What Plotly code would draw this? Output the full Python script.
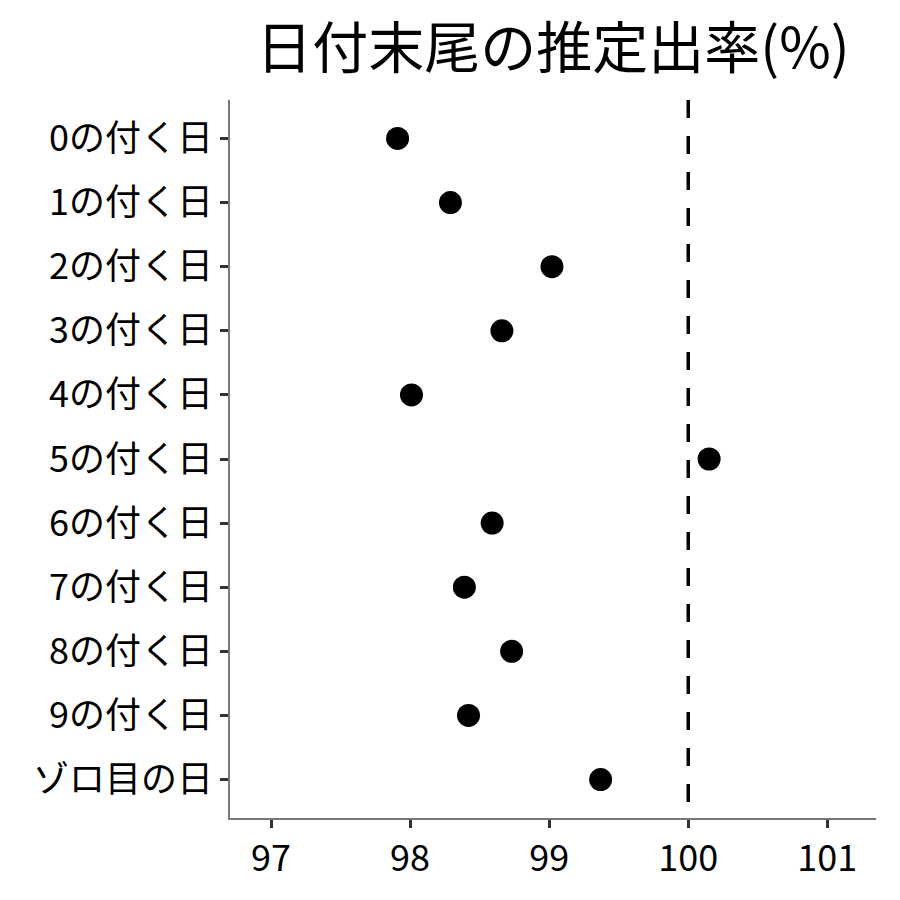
import plotly.graph_objects as go

categories = ["0の付く日", "1の付く日", "2の付く日", "3の付く日", "4の付く日",
              "5の付く日", "6の付く日", "7の付く日", "8の付く日", "9の付く日", "ゾロ目の日"]
values = [97.91, 98.29, 99.02, 98.66, 98.01, 100.15, 98.59, 98.39, 98.73, 98.42, 99.37]
x_ticks = [97, 98, 99, 100, 101]
ref_value = 100

FONT = "Noto Sans CJK JP"

fig = go.Figure()
fig.add_trace(go.Scatter(
    x=values, y=categories, mode="markers",
    marker=dict(color="black", size=23),
    showlegend=False,
))
fig.add_shape(type="line", xref="x", yref="paper", x0=ref_value, x1=ref_value, y0=1, y1=0,
              line=dict(color="black", width=3.5, dash="18px,18px"))

fig.update_layout(
    width=900, height=900,
    paper_bgcolor="white", plot_bgcolor="white",
    margin=dict(l=222, r=32, t=92, b=90),
    font=dict(family=FONT, color="black"),
    title=dict(text="日付末尾の推定出率(%)", x=0.5, xref="paper", xanchor="center",
               y=0.955, yanchor="middle", font=dict(family=FONT, size=56, color="black")),
    xaxis=dict(range=[96.705, 101.35], tickvals=x_ticks, ticks="outside", ticklen=8,
               tickwidth=3, tickcolor="#333", showline=True, linecolor="#777", linewidth=1.5,
               showgrid=False, zeroline=False, tickfont=dict(size=36, color="black")),
    yaxis=dict(categoryorder="array", categoryarray=categories, range=[10.6, -0.6],
               ticks="outside", ticklen=8, tickwidth=3, tickcolor="#333",
               showline=True, linecolor="#777", linewidth=1.5, showgrid=False,
               zeroline=False, tickfont=dict(size=36, color="black")),
)

fig.write_html("out.html")
